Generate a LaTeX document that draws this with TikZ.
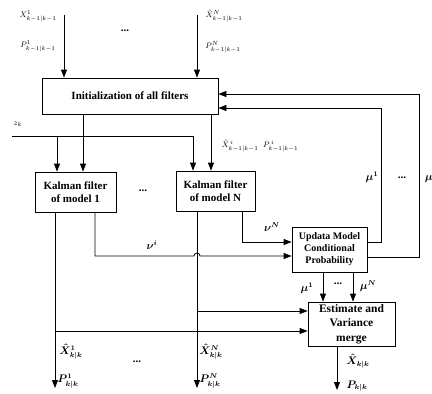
\documentclass[tikz,border=0pt]{standalone}
\usepackage{amsmath}
\usepackage{fontspec}
\setmainfont{Liberation Serif}
\usetikzlibrary{arrows.meta,calc}
\begin{document}
\begin{tikzpicture}[x=1pt,y=-1pt,
 box/.style={draw,line width=0.8pt,inner sep=0pt,align=center,font=\fontsize{11}{13}\selectfont\bfseries},
 conn/.style={line width=0.8pt},
 arr/.style={conn,-{Triangle[length=8pt,width=6pt]}},
 lab/.style={inner sep=0pt,font=\fontsize{8.5}{9}\selectfont},
 blab/.style={inner sep=0pt,font=\fontsize{10.5}{11}\selectfont\boldmath},
 dots/.style={inner sep=0pt,font=\fontsize{11}{11}\selectfont\bfseries},
]
\useasboundingbox (0,0) rectangle (432,394);

% boxes
\node[box,minimum width=176pt,minimum height=36pt] (init) at (130,96) {Initialization of all filters};
\node[box,minimum width=81pt,minimum height=40pt] (K1) at (75.5,192) {Kalman filter\\of model 1};
\node[box,minimum width=79pt,minimum height=40pt] (KN) at (215.5,191) {Kalman filter\\of model N};
\node[box,minimum width=75pt,minimum height=45pt,font=\fontsize{10}{12}\selectfont\bfseries] (upd) at (329.5,249.5) {Updata Model\\Conditional\\Probability};
\node[box,minimum width=87pt,minimum height=44pt,font=\fontsize{11.5}{14.5}\selectfont\bfseries] (est) at (351.5,324) {Estimate and\\Variance\\merge};

% labels
\node[lab] (lx1) at (38,16) {$X^{1}_{k-1|k-1}$};
\node[lab] (lp1) at (38,46) {$P^{1}_{k-1|k-1}$};
\node[dots] (d1) at (125,31) {...};
\node[lab] (lxN) at (224,16) {$\hat{X}^{N}_{k-1|k-1}$};
\node[lab] (lpN) at (223,47) {$P^{N}_{k-1|k-1}$};
\node[lab] (lz) at (18,124) {$z_k$};
\node[lab] (lxi) at (260,146) {$\hat{X}^{\,i}_{k-1|k-1}\;\;P^{\,i}_{k-1|k-1}$};
\node[dots] (d2) at (143,191) {...};
\node[blab] (lvi) at (152,245) {$\nu^{i}$};
\node[blab] (lvN) at (272,227) {$\nu^{N}$};
\node[blab] (lm1) at (372,177) {$\mu^{1}$};
\node[dots] (d3) at (402,178) {...};
\node[blab] (lmN) at (433,177) {$\mu^{N}$};
\node[blab] (lm1b) at (307,288) {$\mu^{1}$};
\node[dots] (d4) at (338,284) {...};
\node[blab] (lmNb) at (368,286) {$\mu^{N}$};
\node[blab] (lx1b) at (71,352) {$\hat{X}^{1}_{k|k}$};
\node[blab] (lp1b) at (68,381) {$P^{1}_{k|k}$};
\node[dots] (d5) at (137,362) {...};
\node[blab] (lxNb) at (211,352) {$\hat{X}^{N}_{k|k}$};
\node[blab] (lpNb) at (210,381) {$P^{N}_{k|k}$};
\node[blab] (lxE) at (358,361) {$\hat{X}_{k|k}$};
\node[blab] (lpE) at (357,386) {$P_{k|k}$};

% coordinates
\coordinate (tx1) at (64,15);
\coordinate (txN) at (197,15);
\coordinate (c1) at (83,0);
\coordinate (cN) at (211,0);
\coordinate (zs) at (12,136);
\coordinate (zb) at (57,136);
\coordinate (zc) at (193,136);
\coordinate (v1) at (95,256);
\coordinate (hopL) at (194,256);
\coordinate (vN) at (242,242);
\coordinate (f1) at (381,242);
\coordinate (f1t) at (381,108);
\coordinate (f2) at (419,257);
\coordinate (f2t) at (419,94);
\coordinate (u1) at (323,0);
\coordinate (u2) at (353,0);
\coordinate (o1) at (55,388);
\coordinate (b1) at (55,331);
\coordinate (oN) at (197,388);
\coordinate (bN) at (197,311);
\coordinate (oE) at (337,390);

% connectors
\draw[arr] (tx1) -- (tx1 |- init.north);
\draw[arr] (txN) -- (txN |- init.north);
\draw[arr] (c1 |- init.south) -- (c1 |- K1.north);
\draw[arr] (cN |- init.south) -- (cN |- KN.north);
\draw[arr] (zs) -- (zc) -- (zc |- KN.north);
\draw[arr] (zb) -- (zb |- K1.north);
\draw[arr] (v1 |- K1.south) -- (v1) -- (hopL) arc[start angle=180,end angle=0,radius=3pt] -- (v1 -| upd.west);
\draw[arr] (vN |- KN.south) -- (vN) -- (vN -| upd.west);
\draw[arr] (f1 -| upd.east) -- (f1) -- (f1t) -- (f1t -| init.east);
\draw[arr] (f2 -| upd.east) -- (f2) -- (f2t) -- (f2t -| init.east);
\draw[arr] (u1 |- upd.south) -- (u1 |- est.north);
\draw[arr] (u2 |- upd.south) -- (u2 |- est.north);
\draw[arr] (o1 |- K1.south) -- (o1);
\draw[arr] (b1) -- (b1 -| est.west);
\draw[arr] (oN |- KN.south) -- (oN);
\draw[arr] (bN) -- (bN -| est.west);
\draw[arr] (oE |- est.south) -- (oE);
\end{tikzpicture}
\end{document}
